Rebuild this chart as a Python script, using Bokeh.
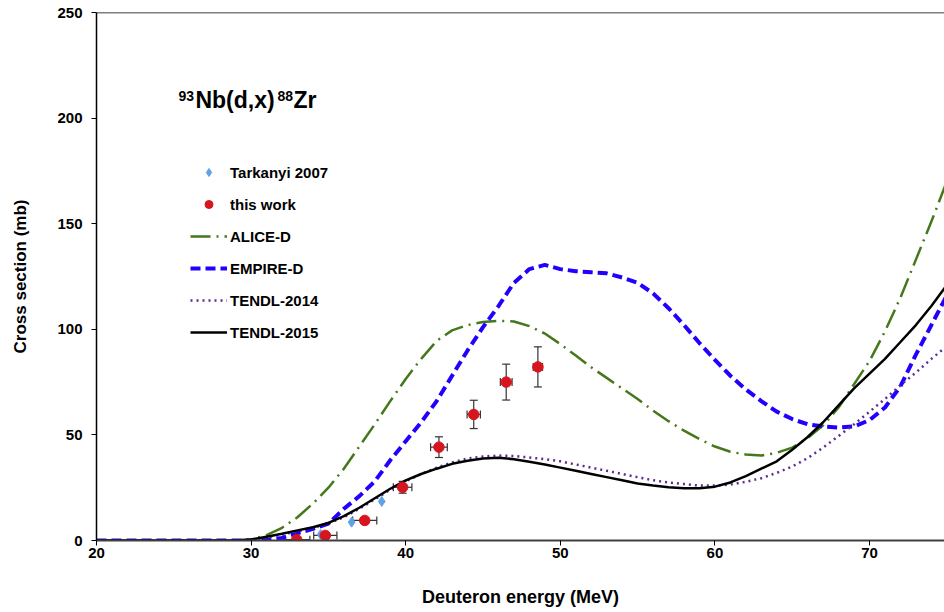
from bokeh.plotting import figure
from bokeh.models import (ColumnDataSource, Whisker, TeeHead, Legend, LegendItem,
                          Span, Label, FixedTicker, Range1d)
from bokeh.embed import file_html
from bokeh.resources import INLINE

# ---------------- data ----------------
energy = [20, 29, 30, 31, 32, 33, 34, 35, 36, 37, 38, 39, 40, 41, 42, 43, 44, 45, 46, 47,
          48, 49, 50, 51, 52, 53, 54, 55, 56, 57, 58, 59, 60, 61, 62, 63, 64, 65, 66, 67,
          68, 69, 70, 71, 72, 73, 74, 75]

alice_d = [0, 0, 0.5, 2.5, 6, 11, 17.5, 25, 34, 44.5, 55, 66, 76.5, 86, 94.5, 99.5, 102, 103.5,
           104, 103.7, 101.5, 98, 93, 87.6, 82, 77, 72, 67, 61.5, 56.5, 52, 48, 44.5, 42, 40.7,
           40.2, 41.5, 44, 48.5, 54.5, 63, 74, 85, 99, 115, 133, 151, 170]

empire_d = [0, 0, 0, 0.3, 1.2, 3.5, 5.5, 8, 15, 21, 28, 38, 47, 56, 66, 78, 90, 101, 111, 122,
            128.5, 130.5, 128.5, 127.5, 127, 126.5, 124.5, 122, 117, 110, 102, 93.5, 85.5, 78,
            71.5, 66, 61, 57.5, 55, 54, 53.5, 54, 57, 63, 73, 88, 102, 116]

tendl_2014 = [0, 0, 0.3, 1.5, 2.8, 4.3, 6, 8, 11, 15, 19.5, 24, 28, 31.5, 34.5, 37, 38.8, 39.8,
              40.2, 40, 39.3, 38.5, 37.5, 36, 34.5, 33, 31.5, 30, 28.5, 27.5, 26.7, 26, 26, 26.5,
              27.8, 29.5, 32, 35, 39, 44, 49.5, 55, 61, 67, 73.5, 79.5, 86, 92]

tendl_2015 = [0, 0, 0.5, 1.8, 3.2, 4.8, 6.3, 8.3, 11.5, 15.5, 20, 24.5, 28.5, 31.5, 34, 36.3, 37.8,
              38.8, 39.2, 38.5, 37.3, 36, 34.5, 33, 31.5, 30, 28.5, 27, 26, 25.2, 24.7, 24.7, 25.5,
              27.5, 30.5, 34, 37.5, 43, 49, 56, 64, 72, 79, 86, 94, 102, 111, 121]

tark_e = [34.5, 36.5, 38.45]
tark_xs = [2.8, 8.7, 18.5]

work_e = [32.95, 34.8, 37.35, 39.8, 42.15, 44.4, 46.5, 48.55]
work_xs = [0.4, 2.4, 9.5, 25.2, 44.2, 59.7, 75.0, 82.2]
work_de = [0.85, 0.75, 0.78, 0.6, 0.54, 0.43, 0.38, 0.3]
work_dxs = [0.3, 0.4, 0.8, 2.8, 4.9, 6.7, 8.5, 9.5]

x_ticks = [20, 30, 40, 50, 60, 70]
y_ticks = [0, 50, 100, 150, 200, 250]

FONT = "Liberation Sans"

# ---------------- figure ----------------
p = figure(width=944, height=612, output_backend="svg", toolbar_location=None,
           x_range=Range1d(20, 74.85), y_range=Range1d(0, 250),
           min_border_left=96, min_border_right=0, min_border_top=12, min_border_bottom=72)
p.outline_line_color = None
p.background_fill_color = "white"
p.border_fill_color = "white"
p.xgrid.grid_line_color = None
p.ygrid.grid_line_color = None

for ax in (p.xaxis[0], p.yaxis[0]):
    ax.major_label_text_font = FONT
    ax.major_label_text_font_style = "bold"
    ax.major_label_text_font_size = "15px"
    ax.major_label_text_color = "black"
    ax.axis_label_text_font = FONT
    ax.axis_label_text_font_style = "bold"
    ax.axis_label_text_font_size = "17px"
    ax.axis_label_text_color = "black"
    ax.minor_tick_line_color = None
    ax.major_tick_in = 0
    ax.major_tick_out = 5
    ax.major_tick_line_color = "black"

p.xaxis.ticker = FixedTicker(ticks=x_ticks)
p.yaxis.ticker = FixedTicker(ticks=y_ticks)
p.xaxis.axis_label = "Deuteron energy (MeV)"
p.yaxis.axis_label = "Cross section (mb)"
p.xaxis.axis_label_text_font_size = "18px"
p.xaxis.axis_line_color = "#404040"
p.xaxis.axis_line_width = 2
p.yaxis.axis_line_color = "black"
p.yaxis.axis_line_width = 1.5
p.xaxis.major_label_standoff = 2
p.yaxis.major_label_standoff = 9
p.xaxis.axis_label_standoff = 26
p.yaxis.axis_label_standoff = 24

p.add_layout(Span(location=250, dimension="width", line_color="black", line_width=1.5))

# curves
r_alice = p.line(energy, alice_d, line_color="#44781B", line_width=2.5,
                 line_dash="20 6 2 6", line_join="round")
r_empire = p.line(energy, empire_d, line_color="#2200FF", line_width=4,
                  line_dash="10 5", line_join="round")
r_t14 = p.line(energy, tendl_2014, line_color="#5C2D91", line_width=2.5,
               line_dash="2 4", line_join="round")
r_t15 = p.line(energy, tendl_2015, line_color="black", line_width=2.5, line_join="round")

# error bars
src = ColumnDataSource(dict(
    e=work_e, xs=work_xs,
    el=[a - b for a, b in zip(work_e, work_de)],
    eu=[a + b for a, b in zip(work_e, work_de)],
    yl=[a - b for a, b in zip(work_xs, work_dxs)],
    yu=[a + b for a, b in zip(work_xs, work_dxs)],
))
p.add_layout(Whisker(source=src, base="e", lower="yl", upper="yu", dimension="height",
                     line_color="#333333", line_width=1.2,
                     upper_head=TeeHead(size=8, line_color="#333333", line_width=1.2),
                     lower_head=TeeHead(size=8, line_color="#333333", line_width=1.2)))
p.add_layout(Whisker(source=src, base="xs", lower="el", upper="eu", dimension="width",
                     line_color="#333333", line_width=1.2,
                     upper_head=TeeHead(size=8, line_color="#333333", line_width=1.2),
                     lower_head=TeeHead(size=8, line_color="#333333", line_width=1.2)))

r_tark = p.scatter(tark_e, tark_xs, marker="diamond", size=10, fill_color="#5EA2E8",
                   line_color="#5EA2E8")
r_work = p.scatter("e", "xs", source=src, marker="circle", size=10.5, fill_color="#D6151E",
                   line_color="#D6151E")

legend = Legend(items=[
    LegendItem(label="Tarkanyi 2007", renderers=[r_tark]),
    LegendItem(label="this work", renderers=[r_work]),
    LegendItem(label="ALICE-D", renderers=[r_alice]),
    LegendItem(label="EMPIRE-D", renderers=[r_empire]),
    LegendItem(label="TENDL-2014", renderers=[r_t14]),
    LegendItem(label="TENDL-2015", renderers=[r_t15]),
], location=(94, 198), orientation="vertical", glyph_width=37, glyph_height=20,
    label_height=20, spacing=12, padding=0, margin=0, border_line_color=None,
    background_fill_alpha=0, label_text_font=FONT, label_text_font_style="bold",
    label_text_font_size="15px", label_standoff=3, label_text_color="black")
p.add_layout(legend)

# reaction title (superscripted mass numbers)
title_parts = [("93", 25.30, 210.7, "14px"), ("Nb(d,x)", 26.40, 208.6, "23px"),
               ("88", 31.71, 210.7, "14px"), ("Zr", 32.74, 208.6, "23px")]
for txt, xx, yy, fs in title_parts:
    p.add_layout(Label(x=xx, y=yy, text=txt, text_font=FONT, text_font_style="bold",
                       text_font_size=fs, text_color="black", text_baseline="middle",
                       text_align="left"))

open("out.html", "w").write(file_html(p, INLINE))
